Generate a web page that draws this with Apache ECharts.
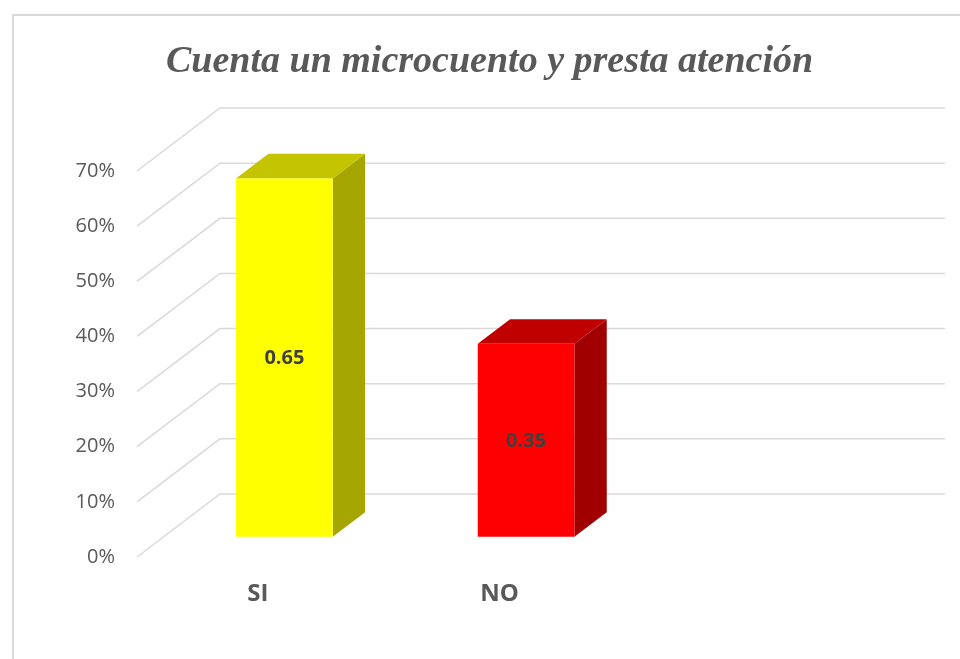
<!DOCTYPE html>
<html>
<head>
<meta charset="utf-8">
<script src="https://cdn.jsdelivr.net/npm/echarts@6/dist/echarts.min.js"></script>
<style>
  html, body { margin: 0; padding: 0; background: #fff; }
  #chart { width: 960px; height: 659px; }
</style>
</head>
<body>
<div id="chart"></div>
<script>
  // data
  var categories = ['SI', 'NO', '']
  var values = [0.65, 0.35]
  var yTicks = [0, 0.1, 0.2, 0.3, 0.4, 0.5, 0.6, 0.7]

  // 3d look: floor depth vector (px) and where the bars sit on it
  var DEPTH_X = 83
  var DEPTH_Y = -63
  var BAR_FRONT = 0.32 // fraction of floor depth
  var BAR_DEPTH = 0.39
  var BAR_WIDTH = 0.4 // fraction of category band

  var frontColors = ['#ffff00', '#ff0000']
  var topColors = ['#c4c400', '#c00000']
  var sideColors = ['#a6a600', '#a00000']

  var chart = echarts.init(document.getElementById('chart'))

  function renderGrid(params, api) {
    var cs = params.coordSys
    var y = api.coord([0, api.value(1)])[1]
    var left = cs.x
    var right = cs.x + cs.width
    return {
      type: 'polyline',
      shape: {
        points: [
          [left, y],
          [left + DEPTH_X, y + DEPTH_Y],
          [right + DEPTH_X, y + DEPTH_Y]
        ]
      },
      style: { stroke: '#d9d9d9', lineWidth: 1.5, fill: null },
      silent: true
    }
  }

  function renderBar(params, api) {
    var i = api.value(0)
    var v = api.value(1)
    var base = api.coord([i, 0])
    var top = api.coord([i, v])
    var band = api.size([1, 0])[0]
    var w = band * BAR_WIDTH
    var ox = DEPTH_X * BAR_FRONT
    var oy = DEPTH_Y * BAR_FRONT
    var dx = DEPTH_X * BAR_DEPTH
    var dy = DEPTH_Y * BAR_DEPTH
    var x0 = base[0] + ox - w / 2
    var x1 = base[0] + ox + w / 2
    var yb = base[1] + oy
    var yt = top[1] + oy
    return {
      type: 'group',
      children: [
        {
          type: 'polygon',
          shape: { points: [[x1, yt], [x1, yb], [x1 + dx, yb + dy], [x1 + dx, yt + dy]] },
          style: { fill: sideColors[i] }
        },
        {
          type: 'polygon',
          shape: { points: [[x0, yt], [x1, yt], [x1 + dx, yt + dy], [x0 + dx, yt + dy]] },
          style: { fill: topColors[i] }
        },
        {
          type: 'rect',
          shape: { x: x0, y: yt, width: x1 - x0, height: yb - yt },
          style: { fill: frontColors[i] }
        },
        {
          type: 'text',
          x: (x0 + x1) / 2,
          y: (yt + yb) / 2 + 1,
          style: {
            text: String(v),
            fill: '#404040',
            font: 'bold 20px "Open Sans"',
            align: 'center',
            verticalAlign: 'middle'
          }
        }
      ]
    }
  }

  chart.setOption({
    animation: false,
    title: {
      text: 'Cuenta un microcuento y presta atención',
      left: 161,
      top: 38,
      textStyle: {
        fontFamily: '"Liberation Serif", "Times New Roman", serif',
        fontStyle: 'italic',
        fontWeight: 'bold',
        fontSize: 38,
        color: '#595959'
      }
    },
    graphic: [{
      type: 'rect',
      shape: { x: 13, y: 15, width: 1000, height: 700 },
      style: { fill: null, stroke: '#d9d9d9', lineWidth: 2 },
      silent: true
    }],
    grid: {
      left: 137,
      right: 98,
      top: 171,
      bottom: 102
    },
    xAxis: {
      type: 'category',
      data: categories,
      axisLine: { show: false },
      axisTick: { show: false },
      splitLine: { show: false },
      axisLabel: {
        margin: 25,
        verticalAlign: 'top',
        lineHeight: 24,
        color: '#595959',
        fontFamily: 'Open Sans',
        fontWeight: 'bold',
        fontSize: 24
      }
    },
    yAxis: {
      type: 'value',
      min: 0,
      max: 0.7,
      interval: 0.1,
      axisLine: { show: false },
      axisTick: { show: false },
      splitLine: { show: false },
      axisLabel: {
        margin: 22,
        color: '#595959',
        fontFamily: 'Open Sans',
        fontSize: 20,
        formatter: function(v) {
          return Math.round(v * 100) + '%'
        }
      }
    },
    series: [
      {
        type: 'custom',
        renderItem: renderGrid,
        clip: false,
        z: 1,
        data: yTicks.map(function(v) { return [0, v] })
      },
      {
        type: 'custom',
        renderItem: renderBar,
        clip: false,
        z: 2,
        data: values.map(function(v, i) { return [i, v] })
      }
    ]
  })
</script>
</body>
</html>
